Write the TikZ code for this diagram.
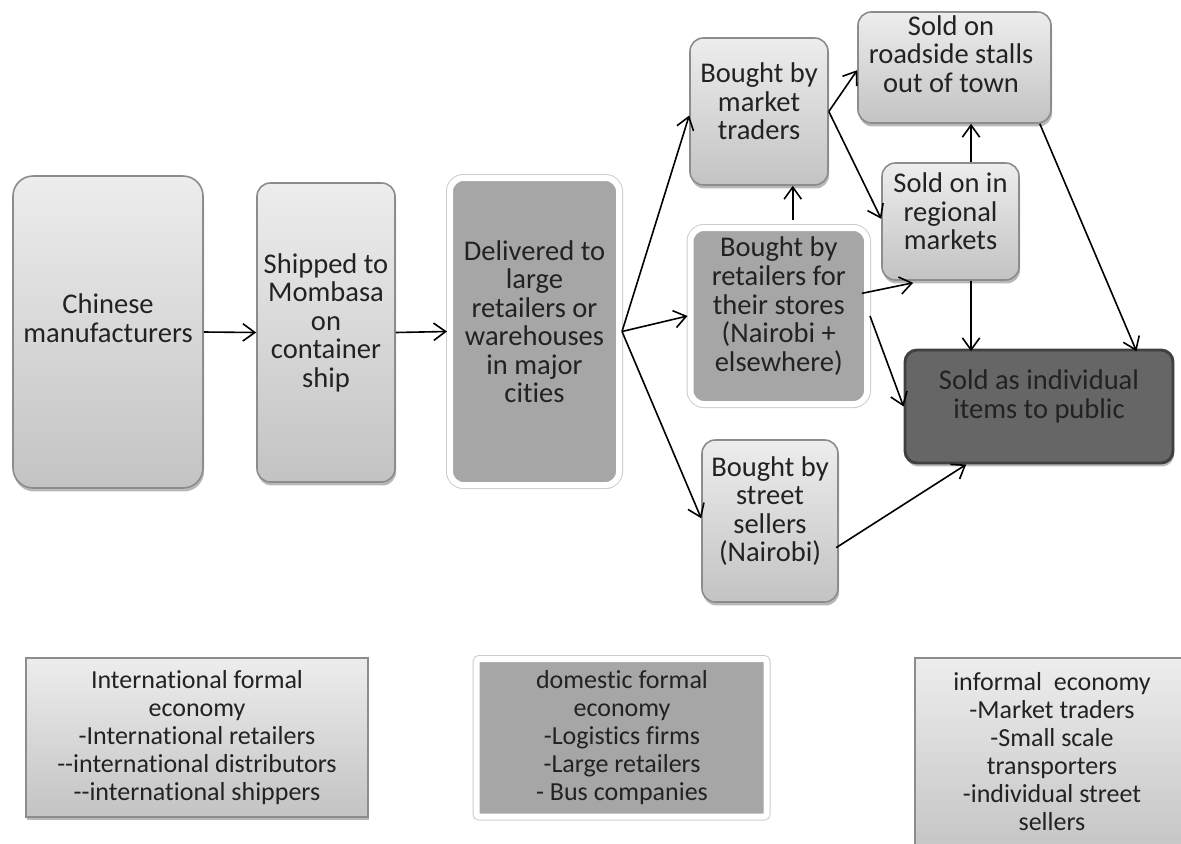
\documentclass[tikz,border=0pt]{standalone}
\usepackage{fontspec}
\setmainfont{Carlito}[Ligatures={TeX,NoCommon}]
\usetikzlibrary{arrows.meta,fit,shadows,calc}
\definecolor{gtop}{HTML}{EDEDED}
\definecolor{gbot}{HTML}{C3C3C3}
\definecolor{bord}{HTML}{8C8C8C}
\definecolor{midg}{HTML}{A6A6A6}
\definecolor{darkg}{HTML}{666666}
\definecolor{darkb}{HTML}{404040}
\definecolor{txtc}{HTML}{222222}
\newcommand\boxfont{\fontsize{21.4pt}{21.4pt}\selectfont}
\newcommand\legfont{\fontsize{19.5pt}{21pt}\selectfont}
\begin{document}
\begin{tikzpicture}[x=0.75pt,y=-0.75pt,
  shad/.style={drop shadow={shadow xshift=0.8pt,shadow yshift=-2.6pt,opacity=0.35,fill=black!80}},
  base/.style={inner sep=0pt, align=center, text=txtc, font=\boxfont},
  lightbox/.style={base, shad, draw=bord, line width=1.2pt, top color=gtop, bottom color=gbot, rounded corners=10pt},
  midbox/.style={base, shad, preaction={draw=black!20, line width=6pt}, draw=white, line width=4.5pt, fill=midg, rounded corners=10pt},
  darkbox/.style={base, shad, draw=darkb, line width=2.2pt, fill=darkg, rounded corners=9pt},
  txtnode/.style={align=center, text=txtc, font=\boxfont, inner sep=0pt},
  legtext/.style={align=center, text=txtc, font=\legfont, inner sep=0pt},
  leglight/.style={shad, draw=bord, line width=1.2pt, top color=gtop, bottom color=gbot, inner sep=0pt},
  legmid/.style={shad, preaction={draw=black!20, line width=6pt}, draw=white, line width=4.5pt, fill=midg, rounded corners=2pt, inner sep=0pt},
  arr/.style={draw=black, line width=1.2pt, -{Straight Barb[length=9pt,width=13pt]}}
]
\clip (0,0) rectangle (1181,843);

% main flow boxes
\node[lightbox, rounded corners=15pt, fit={(13,176) (203,488)}] (ch) {};
\node[txtnode] (cht) at (108,318) {Chinese\\manufacturers};
\node[lightbox, fit={(257,183) (395,482)}] (sh) {Shipped to\\Mombasa\\on\\container\\ship};
\node[midbox, fit={(450,178) (619,485)}] (dl) {Delivered to\\large\\retailers or\\warehouses\\in major\\cities};
\node[lightbox, fit={(690,38) (828,185)}] (mt) {Bought by\\market\\traders};
\node[lightbox, fit={(858,12) (1051,123)}] (rs) {};
\node[txtnode] (rst) at (951,54) {Sold on\\roadside stalls\\out of town};
\node[lightbox, fit={(882,163) (1019,280)}] (rg) {Sold on in\\regional\\markets};
\node[midbox, fit={(690.5,228) (867,404)}] (rt) {Bought by\\retailers for\\their stores\\(Nairobi +\\elsewhere)};
\node[darkbox, fit={(905,350) (1173,463)}] (ind) {Sold as individual\\items to public};
\node[lightbox, fit={(702,440) (838,602)}] (ss) {Bought by\\street\\sellers\\(Nairobi)};

% legend boxes
\node[leglight, fit={(26,658) (368,817)}] (l1) {};
\node[legtext] (l1t) at (197,738) {International formal\\economy\\-International retailers\\-{}-international distributors\\-{}-international shippers};
\node[legmid, fit={(476.5,659) (766.5,816.5)}] (l2) {};
\node[legtext] (l2t) at (622,738) {domestic formal\\economy\\-Logistics firms\\-Large retailers\\- Bus companies};
\node[leglight, fit={(915,658) (1200,860)}] (l3) {};
\node[legtext] (l3t) at (1052,752) {informal\ \ economy\\-Market traders\\-Small scale\\transporters\\-individual street\\sellers};

% connectors
\draw[arr] (ch.east) -- (sh.west);
\draw[arr] (sh.east) -- (dl.west);
\draw[arr] (dl.east) -- ([yshift=-3pt]mt.west);
\draw[arr] (dl.east) -- (rt.west);
\draw[arr] (dl.east) -- ([yshift=2pt]ss.west);
\draw[arr] (mt.east) -- ([yshift=-2pt]rs.west);
\draw[arr] (mt.east) -- ([yshift=2pt]rg.west);
\draw[arr] ([xshift=10.5pt,yshift=3.5pt]rt.north) -- ([xshift=10.5pt]rt.north |- mt.south);
\draw[arr] ([xshift=-6pt,yshift=17pt]rt.east) -- ([xshift=-28pt,yshift=-1.5pt]rg.south);
\draw[arr] (rt.east) -- (ind.west);
\draw[arr] ([xshift=15.4pt]rg.north) -- ([xshift=15.4pt]rg.north |- rs.south);
\draw[arr] ([xshift=15.4pt]rg.south) -- ([xshift=15.4pt,yshift=-2pt]rg.south |- ind.north);
\draw[arr] ([xshift=-9pt]rs.south east) -- ([xshift=-28.5pt,yshift=-2pt]ind.north east);
\draw[arr] ([xshift=-2pt,yshift=-20pt]ss.east) -- ([xshift=47pt]ind.south west);
\end{tikzpicture}
\end{document}
